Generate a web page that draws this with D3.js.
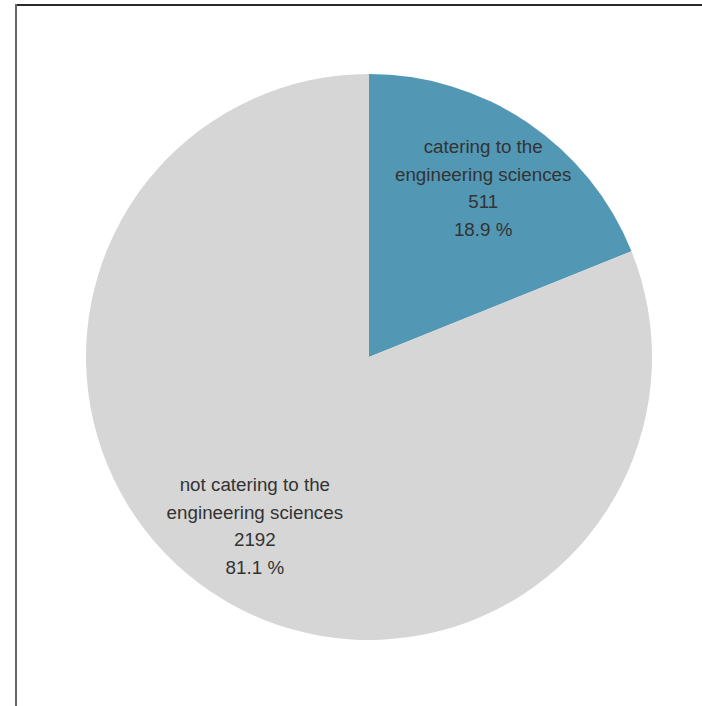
<!DOCTYPE html>
<html>
<head>
<meta charset="utf-8">
<script src="https://cdn.jsdelivr.net/npm/d3@7"></script>
<style>
  html, body { margin: 0; padding: 0; background: #fff; }
  svg { display: block; }
</style>
</head>
<body>
<svg id="chart" width="702" height="706"></svg>
<script>
// Share of courses by engineering focus
const categories = ["catering to the engineering sciences", "not catering to the engineering sciences"];
const labelLines = [["catering to the", "engineering sciences"], ["not catering to the", "engineering sciences"]];
const counts = [511, 2192];
const percents = ["18.9 %", "81.1 %"];
const colors = ["#5298b5", "#d6d6d6"];

const W = 702, H = 706;
const cx = 369, cy = 357, R = 283;
const svg = d3.select("#chart");

// frame lines (top and left)
svg.append("line").attr("x1", 15).attr("x2", W).attr("y1", 5).attr("y2", 5)
  .attr("stroke", "#2a2a2a").attr("stroke-width", 2);
svg.append("line").attr("x1", 16).attr("x2", 16).attr("y1", 4).attr("y2", H)
  .attr("stroke", "#666").attr("stroke-width", 2);

const data = categories.map((c, i) => ({ name: c, value: counts[i], lines: labelLines[i], pct: percents[i], color: colors[i] }));

const pie = d3.pie().value(d => d.value).sort(null);
const arcs = pie(data);
const arc = d3.arc().innerRadius(0).outerRadius(R);
const labelArc = d3.arc().innerRadius(204).outerRadius(204);

const g = svg.append("g").attr("transform", `translate(${cx},${cy})`);
g.selectAll("path").data(arcs).join("path")
  .attr("d", arc)
  .attr("fill", d => d.data.color);

const lh = 27.7;
const lbl = g.selectAll("text.lbl").data(arcs).join("text")
  .attr("class", "lbl")
  .attr("text-anchor", "middle")
  .attr("font-family", "'Liberation Sans', Arial, sans-serif")
  .attr("font-size", 18.8)
  .attr("fill", "#333333")
  .attr("transform", d => { const [x, y] = labelArc.centroid(d); return `translate(${x},${y})`; });

lbl.each(function(d) {
  const rows = [...d.data.lines, String(d.data.value), d.data.pct];
  const t = d3.select(this);
  const y0 = -(rows.length - 1) * lh / 2;
  rows.forEach((r, i) => {
    t.append("tspan").attr("x", 0).attr("y", y0 + i * lh).attr("dy", "0.35em").text(r);
  });
});
</script>
</body>
</html>
